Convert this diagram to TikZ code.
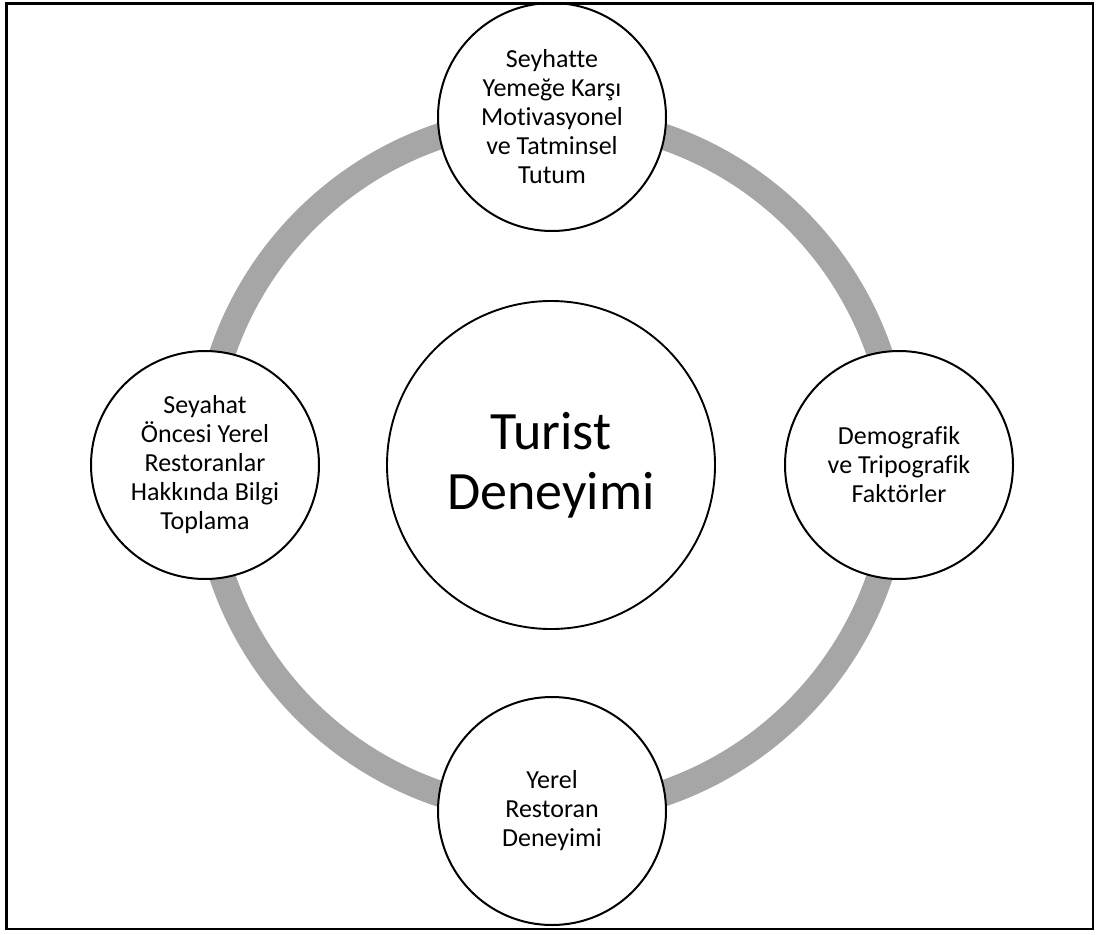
\documentclass[tikz,border=0pt]{standalone}
\usepackage{fontspec}
\setmainfont{Carlito}[Ligatures={NoCommon}]
\usetikzlibrary{backgrounds}
\definecolor{ringgray}{HTML}{A6A6A6}
\begin{document}
\begin{tikzpicture}[x=1pt,y=-1pt,
  ring/.style={draw=ringgray,line width=26pt},
  satellite/.style={circle,draw=black,line width=2pt,fill=white,
    minimum size=228pt,inner sep=0pt,align=center,
    font=\fontsize{26}{29}\selectfont},
  hubnode/.style={circle,draw=black,line width=1.9pt,fill=white,
    minimum size=328pt,inner sep=0pt,align=center,
    font=\fontsize{54}{60}\selectfont},
  frame/.style={draw=black,line width=2.4pt}]
\useasboundingbox (0,0) rectangle (1097,934);

% central concept
\node[hubnode] (hub) at (551,465) {Turist\\Deneyimi};

% surrounding factors
\node[satellite] (top) at (552,117)
  {Seyhatte\\Yemeğe Karşı\\Motivasyonel\\ve Tatminsel\\Tutum};
\node[satellite] (right) at (899,465)
  {Demografik\\ve Tripografik\\Faktörler};
\node[satellite] (bottom) at (552,811)
  {Yerel\\Restoran\\Deneyimi};
\node[satellite] (left) at (205,465)
  {Seyahat\\Öncesi Yerel\\Restoranlar\\Hakkında Bilgi\\Toplama};

% gray ring linking the factors
\begin{pgfonlayer}{background}
  \draw[ring] (hub.center) circle[radius=347];
\end{pgfonlayer}

% outer frame
\draw[frame] (6.5,3.5) rectangle (1093,929);
\end{tikzpicture}
\end{document}
